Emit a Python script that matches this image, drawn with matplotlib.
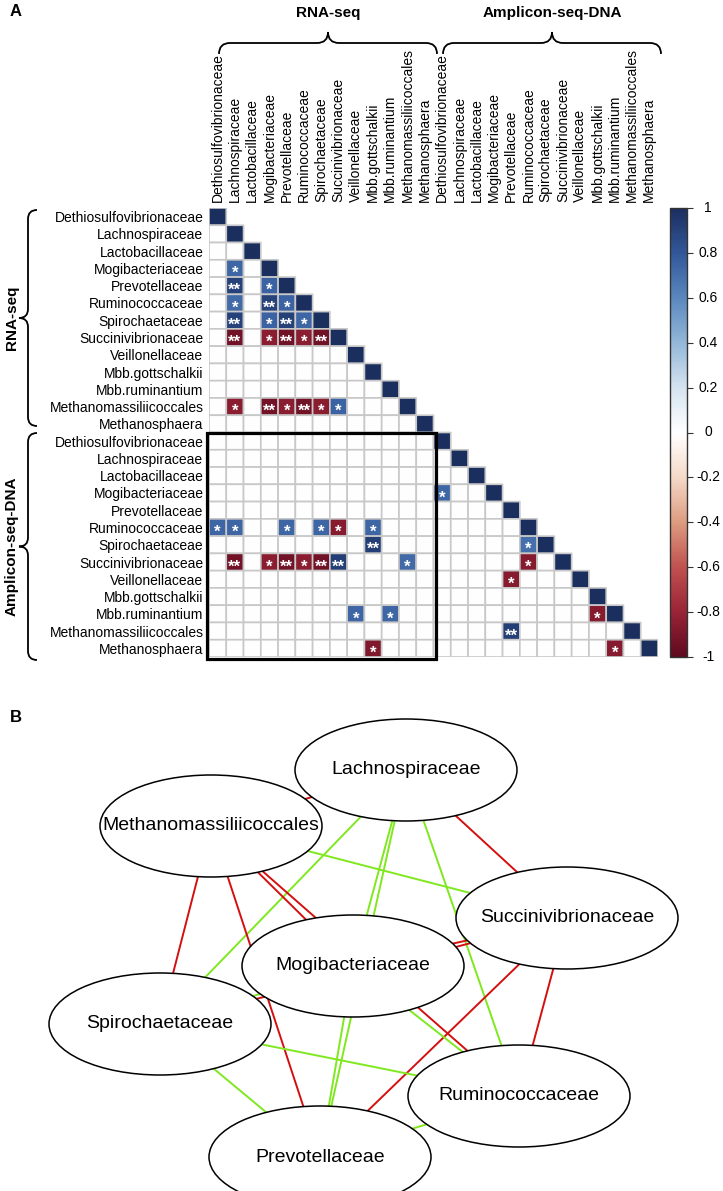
import numpy as np
import matplotlib.pyplot as plt
from matplotlib.colors import LinearSegmentedColormap, Normalize
from matplotlib.patches import Ellipse, Rectangle, PathPatch
from matplotlib.path import Path
from matplotlib.cm import ScalarMappable

plt.rcParams['font.family'] = ['Liberation Sans', 'DejaVu Sans']

# ---- data ----
taxa = ['Dethiosulfovibrionaceae', 'Lachnospiraceae', 'Lactobacillaceae',
        'Mogibacteriaceae', 'Prevotellaceae', 'Ruminococcaceae',
        'Spirochaetaceae', 'Succinivibrionaceae', 'Veillonellaceae',
        'Mbb.gottschalkii', 'Mbb.ruminantium', 'Methanomassiliicoccales',
        'Methanosphaera']
groups = ['RNA-seq', 'Amplicon-seq-DNA']
labels = taxa + taxa  # rows/cols 0-12 RNA-seq, 13-25 Amplicon-seq-DNA

# significant correlations in the lower triangle, one row of the matrix per line
sig_rows = [3,
            4, 4,
            5, 5, 5,
            6, 6, 6, 6,
            7, 7, 7, 7, 7,
            11, 11, 11, 11, 11, 11,
            16,
            18, 18, 18, 18, 18, 18,
            19, 19,
            20, 20, 20, 20, 20, 20, 20, 20,
            21,
            23, 23, 23,
            24,
            25, 25]
sig_cols = [1,
            1, 3,
            1, 3, 4,
            1, 3, 4, 5,
            1, 3, 4, 5, 6,
            1, 3, 4, 5, 6, 7,
            13,
            0, 1, 4, 6, 7, 9,
            9, 18,
            1, 3, 4, 5, 6, 7, 11, 18,
            17,
            8, 10, 22,
            17,
            9, 23]
sig_r = [0.74,
         0.90, 0.75,
         0.72, 0.90, 0.75,
         0.90, 0.75, 0.91, 0.74,
         -0.93, -0.85, -0.93, -0.85, -0.93,
         -0.85, -0.93, -0.85, -0.93, -0.85, 0.75,
         0.74,
         0.74, 0.74, 0.74, 0.74, -0.86, 0.74,
         0.92, 0.70,
         -0.93, -0.85, -0.93, -0.85, -0.93, 0.92, 0.72, -0.86,
         -0.86,
         0.74, 0.74, -0.86,
         0.92,
         -0.88, -0.86]
sig_stars = ['*',
             '**', '*',
             '*', '**', '*',
             '**', '*', '**', '*',
             '**', '*', '**', '*', '**',
             '*', '**', '*', '**', '*', '*',
             '*',
             '*', '*', '*', '*', '*', '*',
             '**', '*',
             '**', '*', '**', '*', '**', '**', '*', '*',
             '*',
             '*', '*', '*',
             '**',
             '*', '*']

net_nodes = ['Lachnospiraceae', 'Methanomassiliicoccales', 'Succinivibrionaceae',
             'Mogibacteriaceae', 'Spirochaetaceae', 'Ruminococcaceae',
             'Prevotellaceae']

# ---- matrix ----
n = len(labels)
M = np.zeros((n, n))
np.fill_diagonal(M, 1.0)
for i, j, r in zip(sig_rows, sig_cols, sig_r):
    M[i, j] = r
lower = np.tril(np.ones((n, n), dtype=bool))
Z = np.ma.masked_where(~lower, M)

cmap = LinearSegmentedColormap.from_list('corr', [
    (0.0, '#5e0a1f'), (0.1, '#9a2437'), (0.2, '#c0524f'), (0.3, '#dd9c80'),
    (0.4, '#f5d9c8'), (0.5, '#ffffff'), (0.6, '#d5e3f0'), (0.7, '#93b8d8'),
    (0.8, '#5a88be'), (0.9, '#32589a'), (1.0, '#1b2f5f')])
norm = Normalize(-1, 1)

W, H = 723, 1191
fig = plt.figure(figsize=(W / 100, H / 100), dpi=100)


def px_axes(x0, y0, x1, y1):
    return fig.add_axes([x0 / W, 1 - y1 / H, (x1 - x0) / W, (y1 - y0) / H])


ov = fig.add_axes([0, 0, 1, 1], zorder=-1)
ov.set_xlim(0, W)
ov.set_ylim(H, 0)
ov.axis('off')

# ---- panel A heatmap ----
ax = px_axes(209, 208, 658, 657)
ax.pcolor(Z, cmap=cmap, norm=norm, edgecolors='#c8c8c8', linewidth=1.2)
ax.set_xlim(0, n)
ax.set_ylim(n, 0)
for s in ax.spines.values():
    s.set_visible(False)
ax.xaxis.tick_top()
ax.set_xticks(np.arange(n) + 0.5)
ax.set_xticklabels(labels, rotation=90, fontsize=10)
ax.set_yticks(np.arange(n) + 0.5)
ax.set_yticklabels(labels, fontsize=10)
ax.tick_params(length=0, pad=4)
for i, j, st in zip(sig_rows, sig_cols, sig_stars):
    ax.text(j + 0.5, i + 1.05, st, color='white', fontsize=12, fontweight='bold',
            ha='center', va='baseline')
ax.add_patch(Rectangle((-0.12, 13.0), 13.25, 13.12, fill=False, lw=2.3,
                       edgecolor='black', clip_on=False))

# colorbar
cax = px_axes(670, 208, 687, 657)
cb = fig.colorbar(ScalarMappable(norm=norm, cmap=cmap), cax=cax,
                  ticks=np.linspace(-1, 1, 11))
cb.outline.set_edgecolor('#333333')
cb.outline.set_linewidth(1)
cax.tick_params(length=4, width=0.8, labelright=False, color='#333333')
for v in np.linspace(-1, 1, 11):
    lab = '0' if abs(v) < 1e-9 else f'{v:.1f}'.rstrip('0').rstrip('.')
    cax.text(2.25, v, lab, transform=cax.get_yaxis_transform(),
             ha='center', va='center', fontsize=10)


def vbrace(x, y0, y1, w=9):
    ym = (y0 + y1) / 2
    v = [(x + w, y0), (x, y0), (x, y0 + w), (x, ym - w), (x, ym), (x - w, ym),
         (x, ym), (x, ym + w), (x, y1 - w), (x, y1), (x + w, y1)]
    c = [Path.MOVETO, Path.CURVE3, Path.CURVE3, Path.LINETO, Path.CURVE3,
         Path.CURVE3, Path.CURVE3, Path.CURVE3, Path.LINETO, Path.CURVE3,
         Path.CURVE3]
    ov.add_patch(PathPatch(Path(v, c), fill=False, lw=1.3, edgecolor='black'))


def hbrace(y, x0, x1, h=11):
    xm = (x0 + x1) / 2
    v = [(x0, y + h), (x0, y), (x0 + h, y), (xm - h, y), (xm, y), (xm, y - h),
         (xm, y), (xm + h, y), (x1 - h, y), (x1, y), (x1, y + h)]
    c = [Path.MOVETO, Path.CURVE3, Path.CURVE3, Path.LINETO, Path.CURVE3,
         Path.CURVE3, Path.CURVE3, Path.CURVE3, Path.LINETO, Path.CURVE3,
         Path.CURVE3]
    ov.add_patch(PathPatch(Path(v, c), fill=False, lw=1.3, edgecolor='black'))


vbrace(28, 210, 426)
vbrace(28, 433, 660)
ov.text(12, 318, groups[0], rotation=90, ha='center', va='center',
        fontsize=11, fontweight='bold')
ov.text(12, 546, groups[1], rotation=90, ha='center', va='center',
        fontsize=11, fontweight='bold')
hbrace(43, 219, 437)
hbrace(43, 443, 661)
ov.text(328, 13, groups[0], ha='center', va='center', fontsize=11,
        fontweight='bold')
ov.text(552, 13, groups[1], ha='center', va='center', fontsize=11,
        fontweight='bold')
ov.text(10, 12, 'A', fontsize=12, fontweight='bold', va='center')
ov.text(10, 717, 'B', fontsize=12, fontweight='bold', va='center')

# ---- panel B network ----
node_xy = {'Lachnospiraceae': (406, 770), 'Methanomassiliicoccales': (211, 826),
           'Succinivibrionaceae': (567, 918), 'Mogibacteriaceae': (353, 966),
           'Spirochaetaceae': (160, 1024), 'Ruminococcaceae': (519, 1096),
           'Prevotellaceae': (320, 1157)}
for a in range(len(net_nodes)):
    for b in range(a + 1, len(net_nodes)):
        i, j = taxa.index(net_nodes[a]), taxa.index(net_nodes[b])
        r = M[max(i, j), min(i, j)]
        if r == 0:
            continue
        (x0, y0), (x1, y1) = node_xy[net_nodes[a]], node_xy[net_nodes[b]]
        ov.plot([x0, x1], [y0, y1], color='#d40f0f' if r < 0 else '#7fe81e',
                lw=1.4, zorder=1)
for name in net_nodes:
    x, y = node_xy[name]
    ov.add_patch(Ellipse((x, y), 222, 102, facecolor='white', edgecolor='black',
                         lw=1.1, zorder=2))
    ov.text(x, y, name, ha='center', va='center', fontsize=14, zorder=3)

fig.savefig('out.png', dpi=100)
